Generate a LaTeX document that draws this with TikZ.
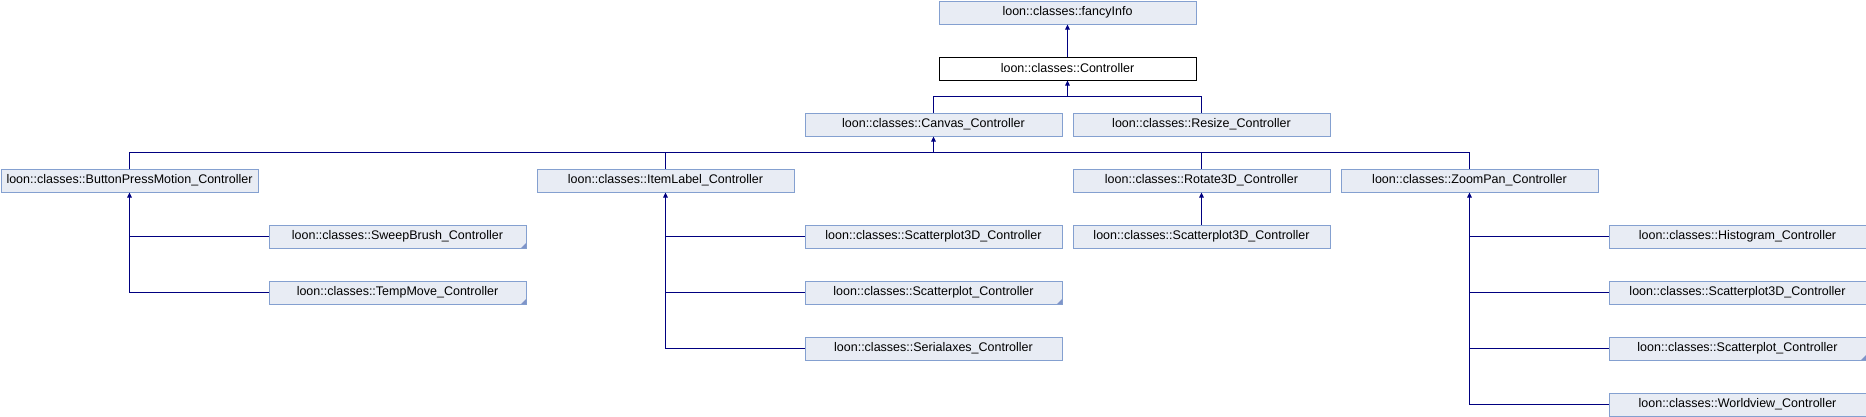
\documentclass[tikz,border=0pt]{standalone}
\usepackage{fontspec}
\setmainfont{Liberation Sans}
\usetikzlibrary{arrows.meta}
\definecolor{boxfill}{HTML}{E8ECF4}
\definecolor{boxline}{HTML}{84A0D0}
\definecolor{edgecol}{HTML}{000080}
\definecolor{cornercol}{HTML}{7F94C8}
\tikzset{
  cls/.style={draw=boxline, fill=boxfill, line width=1pt, rectangle, anchor=north west,
    minimum width=257pt, minimum height=23pt, inner sep=0pt,
    font=\fontsize{12.5}{14}\selectfont},
  clsmain/.style={cls, draw=black, fill=white},
  edge/.style={draw=edgecol, line width=1pt},
  inh/.style={edge, -{Triangle[length=5pt,width=4.5pt]}},
}
\newcommand{\corner}[1]{\fill[cornercol] ([shift={(-0.5pt,0.5pt)}]#1.south east) -- ++(-5pt,0) -- ++(5pt,5pt) -- cycle;}
\begin{document}
\begin{tikzpicture}[x=1pt,y=-1pt]
\useasboundingbox (0,0) rectangle (1866,416);
% row 0..7 tops at 56*k
\node[cls]     (fancy)  at (938.5,0.5)   {loon::classes::fancyInfo};
\node[clsmain] (ctrl)   at (938.5,56.5)  {loon::classes::Controller};
\node[cls]     (canvas) at (804.5,112.5) {loon::classes::Canvas\_Controller};
\node[cls]     (resize) at (1072.5,112.5){loon::classes::Resize\_Controller};
\node[cls]     (bpm)    at (0.5,168.5)   {loon::classes::ButtonPressMotion\_Controller};
\node[cls]     (item)   at (536.5,168.5) {loon::classes::ItemLabel\_Controller};
\node[cls]     (rot)    at (1072.5,168.5){loon::classes::Rotate3D\_Controller};
\node[cls]     (zoom)   at (1340.5,168.5){loon::classes::ZoomPan\_Controller};
\node[cls]     (sweep)  at (268.5,224.5) {loon::classes::SweepBrush\_Controller};
\node[cls]     (temp)   at (268.5,280.5) {loon::classes::TempMove\_Controller};
\node[cls]     (isc3)   at (804.5,224.5) {loon::classes::Scatterplot3D\_Controller};
\node[cls]     (isc)    at (804.5,280.5) {loon::classes::Scatterplot\_Controller};
\node[cls]     (iser)   at (804.5,336.5) {loon::classes::Serialaxes\_Controller};
\node[cls]     (rsc3)   at (1072.5,224.5){loon::classes::Scatterplot3D\_Controller};
\node[cls]     (zhist)  at (1608.5,224.5){loon::classes::Histogram\_Controller};
\node[cls]     (zsc3)   at (1608.5,280.5){loon::classes::Scatterplot3D\_Controller};
\node[cls]     (zsc)    at (1608.5,336.5){loon::classes::Scatterplot\_Controller};
\node[cls]     (zworld) at (1608.5,392.5){loon::classes::Worldview\_Controller};
\corner{sweep}\corner{temp}\corner{isc}\corner{zsc}
\coordinate (busA) at (0,96.5);
\coordinate (busB) at (0,152.5);
% Controller -> fancyInfo
\draw[inh] (ctrl.north) -- (fancy.south);
% Canvas, Resize -> Controller
\draw[edge] (canvas.north) |- (busA -| resize.north) -- (resize.north);
\draw[inh] (busA -| ctrl.south) -- (ctrl.south);
% second level -> Canvas
\draw[edge] (bpm.north) |- (busB -| zoom.north) -- (zoom.north);
\draw[edge] (item.north) -- (busB -| item.north);
\draw[edge] (rot.north) -- (busB -| rot.north);
\draw[inh] (busB -| canvas.south) -- (canvas.south);
% ButtonPressMotion children
\draw[inh] (temp.west) -| (bpm.south);
\draw[edge] (sweep.west) -- (sweep.west -| bpm.south);
% ItemLabel children
\draw[inh] (iser.west) -| (item.south);
\draw[edge] (isc3.west) -- (isc3.west -| item.south);
\draw[edge] (isc.west) -- (isc.west -| item.south);
% Rotate3D child
\draw[inh] (rsc3.north) -- (rot.south);
% ZoomPan children
\draw[inh] (zworld.west) -| (zoom.south);
\draw[edge] (zhist.west) -- (zhist.west -| zoom.south);
\draw[edge] (zsc3.west) -- (zsc3.west -| zoom.south);
\draw[edge] (zsc.west) -- (zsc.west -| zoom.south);
\end{tikzpicture}
\end{document}
